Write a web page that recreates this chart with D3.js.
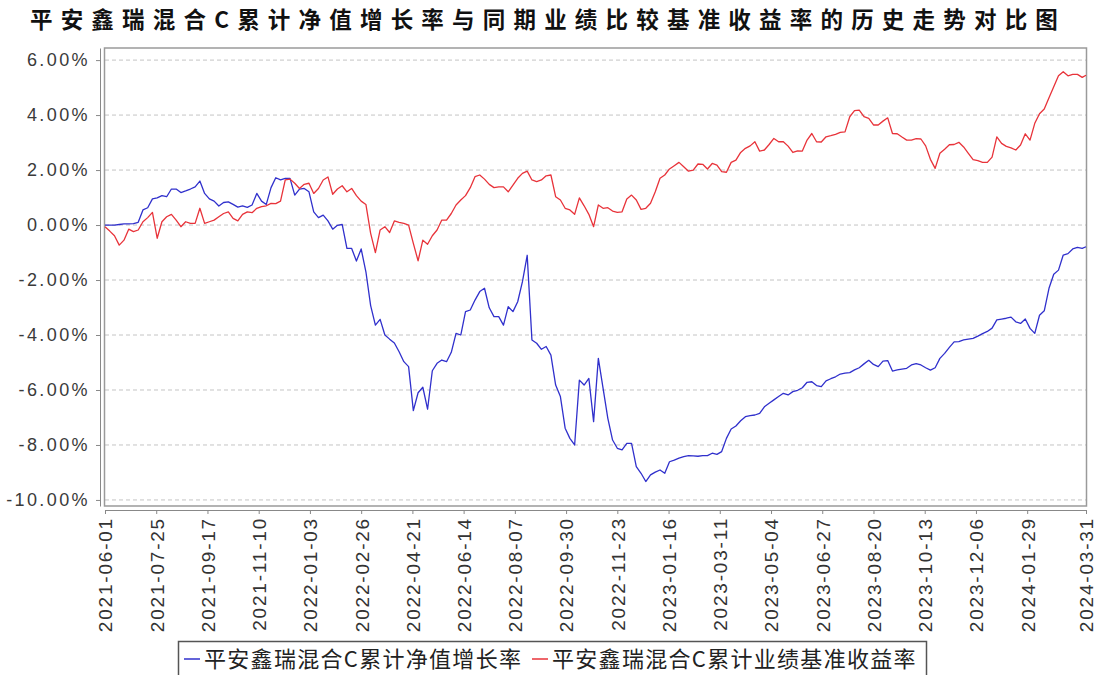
<!DOCTYPE html>
<html>
<head>
<meta charset="utf-8">
<script src="https://cdn.jsdelivr.net/npm/d3@7"></script>
<style>
  body { margin: 0; background: #fff; }
</style>
</head>
<body>
<div id="chart"></div>
<script>
const chartTitle = '平安鑫瑞混合C累计净值增长率与同期业绩比较基准收益率的历史走势对比图';
const seriesNames = ['平安鑫瑞混合C累计净值增长率', '平安鑫瑞混合C累计业绩基准收益率'];
const startDate = '2021-06-01';
const endDate = '2024-03-31';
const stepDays = 5; // one reading every 5 days, last one on endDate

// 累计净值增长率 (%)
const navGrowth = [
  0, 0, 0, 0.02, 0.04, 0.04, 0.05, 0.10, 0.55, 0.63,
  0.95, 0.99, 1.07, 1.03, 1.31, 1.31, 1.18, 1.24, 1.31, 1.39,
  1.60, 1.15, 0.95, 0.87, 0.69, 0.82, 0.84, 0.75, 0.65, 0.70,
  0.64, 0.73, 1.15, 0.87, 0.75, 1.36, 1.72, 1.64, 1.70, 1.70,
  1.09, 1.31, 1.33, 1.21, 0.48, 0.27, 0.36, 0.15, -0.15, -0.01,
  0.02, -0.85, -0.85, -1.31, -0.87, -1.70, -2.93, -3.64, -3.43, -4.00,
  -4.15, -4.29, -4.61, -4.97, -5.15, -6.75, -6.10, -5.90, -6.70, -5.30,
  -5.03, -4.91, -4.97, -4.63, -3.94, -4.00, -3.15, -3.09, -2.73, -2.42,
  -2.30, -3.01, -3.33, -3.33, -3.64, -2.97, -3.15, -2.79, -2.06, -1.10,
  -4.18, -4.30, -4.52, -4.42, -4.73, -5.82, -6.24, -7.39, -7.76, -8.00,
  -5.64, -5.82, -5.58, -7.15, -4.85, -5.94, -7.03, -7.82, -8.12, -8.18,
  -7.94, -7.94, -8.79, -9.03, -9.33, -9.09, -8.99, -8.91, -9.03, -8.61,
  -8.55, -8.48, -8.42, -8.39, -8.40, -8.41, -8.39, -8.39, -8.30, -8.34,
  -8.24, -7.76, -7.42, -7.31, -7.12, -6.97, -6.93, -6.91, -6.85, -6.61,
  -6.48, -6.36, -6.24, -6.12, -6.18, -6.06, -6.01, -5.92, -5.72, -5.70,
  -5.84, -5.88, -5.67, -5.59, -5.52, -5.42, -5.39, -5.37, -5.27, -5.19,
  -5.05, -4.92, -5.07, -5.15, -4.95, -4.93, -5.31, -5.27, -5.24, -5.21,
  -5.09, -5.04, -5.09, -5.19, -5.28, -5.19, -4.85, -4.67, -4.45, -4.25,
  -4.24, -4.18, -4.15, -4.12, -4.04, -3.95, -3.87, -3.75, -3.45, -3.42,
  -3.39, -3.35, -3.52, -3.58, -3.42, -3.76, -3.94, -3.28, -3.12, -2.30,
  -1.79, -1.64, -1.09, -1.04, -0.87, -0.81, -0.85, -0.79
];

// 业绩比较基准收益率 (%)
const benchmark = [
  -0.06, -0.22, -0.39, -0.73, -0.55, -0.15, -0.24, -0.18, 0.12, 0.27,
  0.46, -0.48, 0.12, 0.30, 0.39, 0.18, -0.06, 0.12, 0.06, 0.06,
  0.61, 0.06, 0.12, 0.18, 0.30, 0.42, 0.48, 0.24, 0.15, 0.39,
  0.48, 0.45, 0.61, 0.67, 0.70, 0.79, 0.78, 0.87, 1.64, 1.67,
  1.52, 1.33, 1.48, 1.52, 1.15, 1.33, 1.64, 1.75, 1.12, 1.31,
  1.43, 1.21, 1.33, 1.07, 0.87, 0.75, -0.30, -1.00, -0.18, -0.06,
  -0.27, 0.15, 0.10, 0.06, 0.00, -0.67, -1.30, -0.55, -0.70, -0.39,
  -0.18, 0.18, 0.18, 0.42, 0.73, 0.91, 1.07, 1.36, 1.76, 1.82,
  1.67, 1.48, 1.36, 1.39, 1.39, 1.21, 1.45, 1.70, 1.88, 1.96,
  1.64, 1.58, 1.64, 1.79, 1.82, 1.03, 0.91, 0.61, 0.55, 0.39,
  0.99, 0.70, 0.39, -0.06, 0.73, 0.61, 0.63, 0.51, 0.46, 0.48,
  0.95, 1.09, 0.91, 0.57, 0.61, 0.79, 1.21, 1.70, 1.82, 2.04,
  2.16, 2.28, 2.12, 1.96, 2.00, 2.22, 2.21, 2.04, 2.24, 2.18,
  1.94, 1.92, 2.28, 2.36, 2.64, 2.79, 2.88, 3.03, 2.69, 2.73,
  2.93, 3.15, 3.03, 3.03, 2.87, 2.64, 2.70, 2.69, 3.09, 3.33,
  3.03, 3.02, 3.21, 3.25, 3.30, 3.37, 3.39, 3.94, 4.16, 4.18,
  3.94, 3.88, 3.64, 3.64, 3.78, 3.90, 3.33, 3.32, 3.20, 3.09,
  3.09, 3.14, 3.13, 2.88, 2.39, 2.06, 2.61, 2.76, 2.92, 2.93,
  3.01, 2.84, 2.61, 2.38, 2.34, 2.28, 2.28, 2.47, 3.21, 2.97,
  2.86, 2.81, 2.73, 2.91, 3.32, 3.09, 3.70, 4.05, 4.22, 4.63,
  5.03, 5.43, 5.58, 5.43, 5.48, 5.48, 5.37, 5.45
];

const tickDates = [
  '2021-06-01', '2021-07-25', '2021-09-17', '2021-11-10', '2022-01-03',
  '2022-02-26', '2022-04-21', '2022-06-14', '2022-08-07', '2022-09-30',
  '2022-11-23', '2023-01-16', '2023-03-11', '2023-05-04', '2023-06-27',
  '2023-08-20', '2023-10-13', '2023-12-06', '2024-01-29', '2024-03-31'
];
const yTicks = [-10, -8, -6, -4, -2, 0, 2, 4, 6];

const width = 1099;
const height = 675;
const plot = { left: 105, right: 1086, top: 48, bottom: 506 };
const colors = ['#3030cc', '#e8333a'];

const parse = d3.timeParse('%Y-%m-%d');
const start = parse(startDate);
const end = parse(endDate);
const dates = navGrowth.map((_, i) => (i === navGrowth.length - 1
  ? end : d3.timeDay.offset(start, i * stepDays)));

const x = d3.scaleTime().domain([start, end]).range([plot.left, plot.right]);
const y = d3.scaleLinear().domain([-10.22, 6.44]).range([plot.bottom, plot.top]);

const svg = d3.select('#chart')
  .append('svg')
  .attr('width', width)
  .attr('height', height)
  .attr('viewBox', [0, 0, width, height])
  .style('background', '#fff');

svg.append('text')
  .attr('x', 548)
  .attr('y', 28)
  .attr('text-anchor', 'middle')
  .attr('font-family', '"Noto Sans CJK SC", sans-serif')
  .attr('font-weight', 'bold')
  .attr('font-size', 22.5)
  .attr('letter-spacing', 8.2)
  .attr('fill', '#111')
  .text(chartTitle);

// grid
svg.append('g')
  .selectAll('line')
  .data(yTicks)
  .join('line')
  .attr('x1', plot.left)
  .attr('x2', plot.right)
  .attr('y1', (d) => y(d))
  .attr('y2', (d) => y(d))
  .attr('stroke', '#c4c4c4')
  .attr('stroke-dasharray', '4,3');

// frame
svg.append('rect')
  .attr('x', plot.left - 0.5)
  .attr('y', plot.top)
  .attr('width', plot.right - plot.left + 1)
  .attr('height', plot.bottom - plot.top)
  .attr('fill', 'none')
  .attr('stroke', '#9a9a9a')
  .attr('stroke-width', 1.5);

// y axis
const yAxis = svg.append('g')
  .attr('transform', 'translate(100,0)')
  .call(d3.axisLeft(y).tickValues(yTicks).tickSize(4).tickSizeOuter(0).tickPadding(6)
    .tickFormat((d) => `${d.toFixed(2)}%`));
yAxis.select('.domain').attr('stroke', '#888');
yAxis.selectAll('.tick line').attr('stroke', '#888');
yAxis.selectAll('text')
  .attr('font-family', '"Liberation Sans", Arial, sans-serif')
  .attr('font-size', 18)
  .attr('letter-spacing', 2.4)
  .attr('fill', '#3a3a3a');

// x axis
const xAxis = svg.append('g')
  .attr('transform', 'translate(0,510)')
  .call(d3.axisBottom(x).tickValues(tickDates.map(parse)).tickSize(4).tickSizeOuter(0)
    .tickFormat(d3.timeFormat('%Y-%m-%d')));
xAxis.select('.domain').attr('stroke', '#888');
xAxis.selectAll('.tick line').attr('stroke', '#888');
xAxis.selectAll('text')
  .attr('transform', 'rotate(-90)')
  .attr('x', -7)
  .attr('y', 0)
  .attr('dy', '0.36em')
  .attr('text-anchor', 'end')
  .attr('font-family', '"Liberation Sans", Arial, sans-serif')
  .attr('font-size', 19)
  .attr('letter-spacing', 1.8)
  .attr('fill', '#333');

// lines
const line = d3.line()
  .x((d, i) => x(dates[i]))
  .y((d) => y(d));

[navGrowth, benchmark].forEach((values, k) => {
  svg.append('path')
    .datum(values)
    .attr('fill', 'none')
    .attr('stroke', colors[k])
    .attr('stroke-width', 1.3)
    .attr('stroke-linejoin', 'round')
    .attr('d', line);
});

// legend
const legend = svg.append('g');
legend.append('rect')
  .attr('x', 178.5)
  .attr('y', 641.5)
  .attr('width', 748)
  .attr('height', 40)
  .attr('fill', '#fff')
  .attr('stroke', '#555')
  .attr('stroke-width', 1.5);
const legendX = [184, 532];
seriesNames.forEach((name, k) => {
  legend.append('line')
    .attr('x1', legendX[k])
    .attr('x2', legendX[k] + 16)
    .attr('y1', 659)
    .attr('y2', 659)
    .attr('stroke', colors[k])
    .attr('stroke-width', 1.5);
  legend.append('text')
    .attr('x', legendX[k] + 20)
    .attr('y', 667)
    .attr('font-family', '"Noto Sans CJK SC", sans-serif')
    .attr('font-size', 22)
    .attr('letter-spacing', 1.3)
    .attr('fill', '#222')
    .text(name);
});
</script>
</body>
</html>
